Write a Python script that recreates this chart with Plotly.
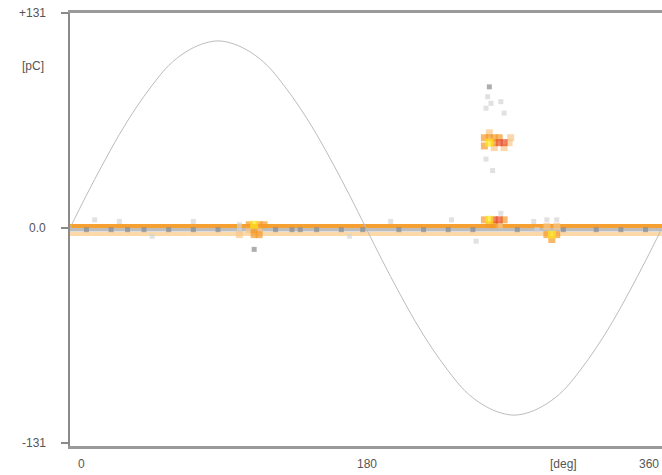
import plotly.graph_objects as go

# ---- data ----
sine_phase = [0, 10, 20, 30, 40, 50, 60, 70, 80, 90, 100, 110, 120, 130, 140, 150, 160, 170, 180,
              190, 200, 210, 220, 230, 240, 250, 260, 270, 280, 290, 300, 310, 320, 330, 340, 350, 360]
sine_pc = [0, 20, 39, 57, 73, 87, 99, 107, 112, 114, 112, 107, 99, 87, 73, 57, 39, 20, 0,
           -20, -39, -57, -73, -87, -99, -107, -112, -114, -112, -107, -99, -87, -73, -57, -39, -20, 0]

band_levels = [1.2, -1.1, -3.7]          # pC rows of the dense band around zero

# pulses: phase [deg], charge [pC], intensity level (0..5)
pd_phase = [252, 255, 255, 258, 252, 258, 261, 264, 261, 267, 255, 258, 264, 268,
            109, 112, 115, 118, 112, 109, 115, 112, 115, 103, 103, 103,
            252, 255, 258, 261, 264, 255, 258, 261,
            290, 293, 296, 293, 290, 296, 290, 296, 284,
            10, 25, 35, 45, 60, 75, 90, 125, 135, 140, 150, 165, 178, 200, 215, 230, 245,
            272, 300, 320, 335, 350,
            15, 30, 50, 75, 112, 170, 195, 232, 247, 282, 262,
            255, 254, 256, 253, 262, 264, 253, 257]
pd_pc = [55, 55, 52, 52, 50, 55, 52, 52, 55, 52, 58, 49, 49, 55,
         2, 2, 2, 2, -1, -1, -1, -4, -4, 2, -4, -1,
         5, 5, 5, 5, 5, 2, 2, 2,
         -4, -4, -4, -7, 1, 1, 5, 5, -1,
         -1, -1, -1, -1, -1, -1, -1, -1, -1, -1, -1, -1, -1, -1, -1, -1, -1,
         -1, -1, -1, -1, -1,
         5, 4, -5, 4, -13, -5, 4, 5, -8, 4, 9,
         86, 80, 76, 73, 77, 70, 42, 35]
pd_level = [3, 3, 5, 3, 3, 3, 4, 4, 3, 2, 2, 2, 2, 2,
            3, 5, 3, 3, 3, 2, 2, 3, 3, 1, 2, 1,
            3, 5, 4, 4, 3, 3, 3, 2,
            3, 5, 3, 3, 2, 2, 1, 1, 1,
            0, 0, 0, 0, 0, 0, 0, 0, 0, 0, 0, 0, 0, 0, 0, 0, 0,
            0, 0, 0, 0, 0,
            1, 1, 1, 1, 0, 1, 1, 1, 1, 1, 1,
            0, 1, 1, 1, 1, 1, 1, 1]

y_ticks = [131, 0, -131]
y_tick_labels = ["+131", "0.0", "-131"]
x_ticks = [0, 180, 360]
x_tick_labels = ["0", "180", "360"]

# ---- styling ----
palette = ["#8a8a8a", "#d4d4d4", "#f8c68a", "#f59a2a", "#e8502a", "#ffe61a"]
marker_sizes = [5, 5, 7, 7, 7, 8]
band_colors = ["#f5a030", "#bdbdbd", "#fbd9a8"]
band_widths = [4, 3.5, 4]
text_col = "#555555"
font = dict(family="Liberation Sans, Arial, sans-serif", size=12, color=text_col)

fig = go.Figure()

# dense band at zero
for lvl, c, w in zip(band_levels, band_colors, band_widths):
    fig.add_trace(go.Scatter(x=[0, 360], y=[lvl, lvl], mode="lines",
                             line=dict(color=c, width=w), hoverinfo="skip"))

# reference sine
fig.add_trace(go.Scatter(x=sine_phase, y=sine_pc, mode="lines",
                         line=dict(color="#bcbcbc", width=1, shape="spline"),
                         hoverinfo="skip"))

# pulses (draw low levels first)
order = sorted(range(len(pd_phase)), key=lambda i: pd_level[i])
fig.add_trace(go.Scatter(
    x=[pd_phase[i] for i in order], y=[pd_pc[i] for i in order], mode="markers",
    marker=dict(symbol="square", size=[marker_sizes[pd_level[i]] for i in order],
                color=[palette[pd_level[i]] for i in order], line=dict(width=0)),
    hoverinfo="skip"))

annotations = []
for v, t in zip(y_ticks, y_tick_labels):
    annotations.append(dict(x=0, xref="paper", y=v, yref="y", text=t, showarrow=False,
                            xanchor="right", yanchor="middle", xshift=-22, font=font))
annotations.append(dict(x=0, xref="paper", y=99, yref="y", text="[pC]", showarrow=False,
                        xanchor="right", yanchor="middle", xshift=-24, font=font))
for v, t in zip(x_ticks, x_tick_labels):
    if v == 0:
        anch, sh = "left", 6
    elif v == 360:
        anch, sh = "right", -1
    else:
        anch, sh = "center", 1
    annotations.append(dict(x=v, xref="x", y=0, yref="paper", text=t, showarrow=False,
                            xanchor=anch, yanchor="top", xshift=sh, yshift=-9, font=font))
annotations.append(dict(x=300, xref="x", y=0, yref="paper", text="[deg]", showarrow=False,
                        xanchor="center", yanchor="top", xshift=0, yshift=-9, font=font))

fig.update_layout(
    width=662, height=475,
    margin=dict(l=70, r=0, t=13, b=29, autoexpand=False),
    paper_bgcolor="white", plot_bgcolor="white",
    showlegend=False,
    annotations=annotations,
    xaxis=dict(range=[0, 360], showgrid=False, zeroline=False, showticklabels=False,
               showline=True, linecolor="#9a9a9a", linewidth=3, mirror=True,
               ticks="", fixedrange=True),
    yaxis=dict(range=[-132.8, 131], showgrid=False, zeroline=False, showticklabels=False,
               showline=True, linecolor="#8a8a8a", linewidth=2, mirror=False,
               tickvals=y_ticks, ticks="outside", ticklen=7, tickwidth=2, tickcolor="#8a8a8a",
               fixedrange=True),
)

fig.write_html("out.html", config={"displayModeBar": False},
               post_script="document.body.style.margin='0px';document.body.style.overflow='hidden';")
